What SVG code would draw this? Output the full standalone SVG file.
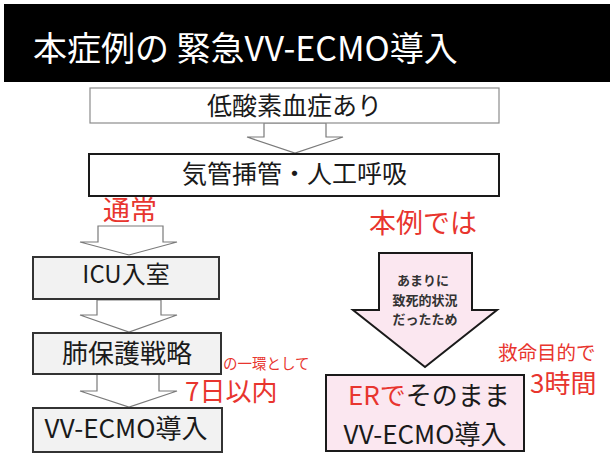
<svg xmlns="http://www.w3.org/2000/svg" width="610" height="455" viewBox="0 0 610 455">
<style>
text{font-family:"Noto Sans CJK JP","Noto Sans",sans-serif;fill:#1a1a1a}
.red{fill:#e8352e}
.hollow{fill:#ffffff;stroke:#7a7a7a;stroke-width:1.2}
.gbox{fill:#f2f2f2;stroke:#333333;stroke-width:2}
.mid{text-anchor:middle}
.inarrow{font-size:13px;font-weight:bold;fill:#333333;text-anchor:middle}
</style>
<rect x="0" y="0" width="610" height="455" fill="#ffffff"/>
<g id="title">
<rect x="4" y="4" width="606" height="78" fill="#000000"/>
<text x="33" y="61" font-size="34" style="fill:#ffffff">本症例の 緊急VV-ECMO導入</text>
</g>
<g id="connectors">
<polygon class="hollow" points="264,123 326,123 326,137 343,137 295,153 247,137 264,137"/>
<polygon class="hollow" points="98,226 163,226 163,242 177,242 129,255 80,242 98,242"/>
<polygon class="hollow" points="97,300 161,300 161,315 177,315 129,332 80,315 97,315"/>
<polygon class="hollow" points="97,374 159,374 159,391 177,391 129,407 80,391 97,391"/>
</g>
<g id="n_hypoxemia">
<rect x="90" y="88" width="409" height="35" fill="#ffffff" stroke="#8c8c8c" stroke-width="1.2"/>
<text class="mid" x="294.5" y="115" font-size="25">低酸素血症あり</text>
</g>
<g id="n_intubation">
<rect x="89" y="154" width="410" height="42" fill="#ffffff" stroke="#1a1a1a" stroke-width="2"/>
<text class="mid" x="294.5" y="183" font-size="25">気管挿管・人工呼吸</text>
</g>
<g id="l_usual">
<text class="red" x="103" y="220" font-size="27">通常</text>
</g>
<g id="n_icu">
<rect class="gbox" x="33" y="257" width="186" height="42"/>
<text class="mid" x="126" y="283" font-size="24">ICU入室</text>
</g>
<g id="n_lung">
<rect class="gbox" x="33" y="333" width="188" height="41"/>
<text class="mid" x="127" y="363" font-size="26">肺保護戦略</text>
</g>
<g id="n_ecmo_left">
<rect class="gbox" x="33" y="408" width="189" height="44"/>
<text class="mid" x="126" y="438" font-size="26">VV-ECMO導入</text>
</g>
<g id="l_within7">
<text class="red" x="223" y="368.5" font-size="14.5">の一環として</text>
<text class="red" x="185" y="400.5" font-size="26">7日以内</text>
</g>
<g id="l_thiscase">
<text class="red" x="369" y="233" font-size="27">本例では</text>
</g>
<g id="n_bigarrow">
<polygon points="379,253 472,253 472,310 497,310 425,367 353,310 379,310" fill="#fbe7f0" stroke="#1a1a1a" stroke-width="2"/>
<text class="inarrow" x="423" y="285">あまりに</text>
<text class="inarrow" x="425" y="304.5">致死的状況</text>
<text class="inarrow" x="425" y="324">だったため</text>
</g>
<g id="n_er">
<rect x="326" y="375" width="198" height="76" fill="#fbe7f0" stroke="#1a1a1a" stroke-width="2"/>
<text x="348" y="405" font-size="26"><tspan class="red">ERで</tspan>そのまま</text>
<text class="mid" x="425" y="444" font-size="26">VV-ECMO導入</text>
</g>
<g id="l_3h">
<text class="red" x="498" y="359.5" font-size="19.5">救命目的で</text>
<text class="red" x="530" y="393" font-size="26">3時間</text>
</g>
</svg>
